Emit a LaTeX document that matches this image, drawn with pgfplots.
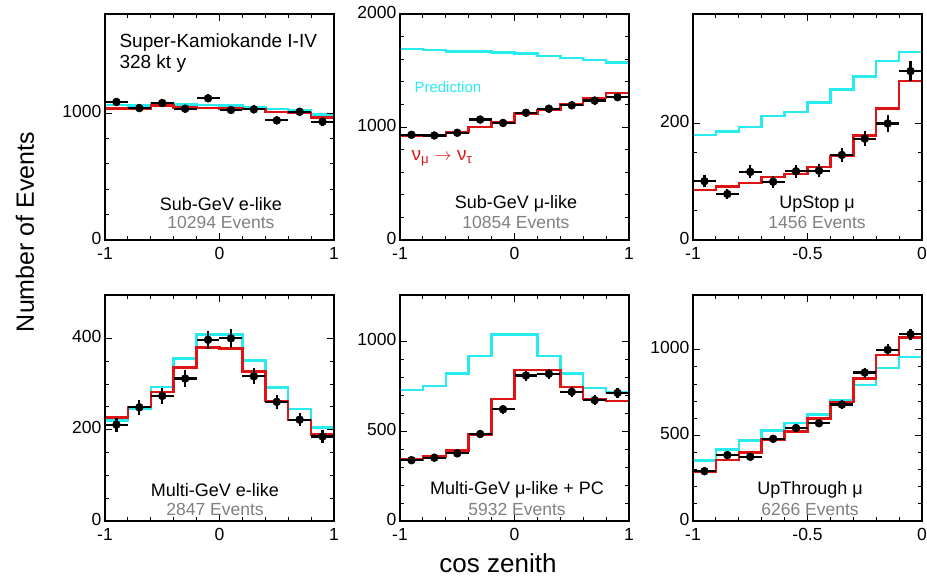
\documentclass[border=0pt]{standalone}
\usepackage{fontspec}
\setmainfont{Liberation Sans}
\usepackage{pgfplots}
\pgfplotsset{compat=1.18}

\definecolor{hred}{RGB}{222,20,20}
\definecolor{hcyan}{RGB}{40,235,240}
\definecolor{evgray}{RGB}{128,128,128}

\pgfplotsset{
 panel/.style={scale only axis, width=229pt, height=226pt, anchor=north west,
  axis line style={line width=2.4pt}, tick style={black, line width=0.9pt},
  major tick length=7pt, minor tick length=4pt, tick align=inside,
  tick label style={font=\fontsize{17.5}{18}\selectfont, inner sep=0.5pt},
  xticklabel style={yshift=-7pt}, yticklabel style={xshift=-3pt, yshift=2pt},
  /pgf/number format/assume math mode=true,
  /pgf/number format/1000 sep={}, ymin=0, clip=true, axis on top},
 hred/.style={const plot, no marks, line width=2.5pt, color=hred},
 hcy/.style={const plot, no marks, line width=2.5pt, color=hcyan},
 dat/.style={only marks, mark=*, mark size=4pt, black,
  error bars/.cd, x dir=both, x fixed=#1, y dir=both, y explicit,
  error bar style={line width=2.2pt, black}, error mark=none},
}

\begin{document}
\begin{tikzpicture}
\useasboundingbox (0pt,0pt) rectangle (927pt,-578pt);

% ---------- Panel 1: Sub-GeV e-like
\begin{axis}[panel, at={(105pt,-14pt)}, xmin=-1, xmax=1, ymax=1780,
  xtick={-1,0,1}, minor x tick num=4, ytick={0,1000}, minor y tick num=4]
\addplot[hcy] coordinates {(-1,1062)(-0.8,1058)(-0.6,1080)(-0.4,1068)(-0.2,1062)(0,1060)(0.2,1045)(0.4,1030)(0.6,1025)(0.8,990)(1,990)};
\addplot[hred] coordinates {(-1,1034)(-0.8,1034)(-0.6,1060)(-0.4,1045)(-0.2,1040)(0,1034)(0.2,1030)(0.4,1008)(0.6,1000)(0.8,963)(1,963)(1,0)(-1,0)};
\addplot[dat=0.1] table[x=x, y=y, y error=e] {
x y e
-0.9 1087 33
-0.7 1039 32
-0.5 1079 33
-0.3 1034 32
-0.1 1116 33
0.1 1024 32
0.3 1029 32
0.5 942 31
0.7 1010 32
0.9 932 31
};
\end{axis}

% ---------- Panel 2: Sub-GeV mu-like
\begin{axis}[panel, at={(400pt,-14pt)}, xmin=-1, xmax=1, ymax=2000,
  xtick={-1,0,1}, minor x tick num=4, ytick={0,1000,2000}, minor y tick num=4]
\addplot[hcy] coordinates {(-1,1690)(-0.8,1682)(-0.6,1670)(-0.4,1667)(-0.2,1660)(0,1652)(0.2,1630)(0.4,1610)(0.6,1591)(0.8,1570)(1,1570)};
\addplot[hred] coordinates {(-1,925)(-0.8,925)(-0.6,955)(-0.4,1000)(-0.2,1039)(0,1120)(0.2,1150)(0.4,1200)(0.6,1255)(0.8,1300)(1,1300)(1,0)(-1,0)};
\addplot[dat=0.1] table[x=x, y=y, y error=e] {
x y e
-0.9 931 31
-0.7 925 31
-0.5 949 31
-0.3 1066 33
-0.1 1036 32
0.1 1126 34
0.3 1162 34
0.5 1192 35
0.7 1234 35
0.9 1264 36
};
\end{axis}

% ---------- Panel 3: UpStop mu
\begin{axis}[panel, at={(693pt,-14pt)}, xmin=-1, xmax=0, ymax=388,
  xtick={-1,-0.5,0}, minor x tick num=4, ytick={0,200}, minor y tick num=3,
  xticklabels={-1,-0.5,0}]
\addplot[hcy] coordinates {(-1,180)(-0.9,186)(-0.8,194)(-0.7,213)(-0.6,220)(-0.5,236)(-0.4,258)(-0.3,281)(-0.2,307)(-0.1,323)(0,323)};
\addplot[hred] coordinates {(-1,86)(-0.9,92)(-0.8,98)(-0.7,108)(-0.6,113)(-0.5,125)(-0.4,144)(-0.3,179)(-0.2,226)(-0.1,273)(0,273)(0,0)(-1,0)};
\addplot[dat=0.05] table[x=x, y=y, y error=e] {
x y e
-0.95 101 10
-0.85 79 9
-0.75 117 11
-0.65 100 10
-0.55 118 11
-0.45 119 11
-0.35 146 12
-0.25 174 13
-0.15 200 14
-0.05 290 17
};
\end{axis}

% ---------- Panel 4: Multi-GeV e-like
\begin{axis}[panel, at={(105pt,-295pt)}, xmin=-1, xmax=1, ymax=495,
  xtick={-1,0,1}, minor x tick num=4, ytick={0,200,400}, minor y tick num=3]
\addplot[hcy] coordinates {(-1,220)(-0.8,246)(-0.6,294)(-0.4,356)(-0.2,409)(0,409)(0.2,352)(0.4,292)(0.6,245)(0.8,205)(1,205)};
\addplot[hred] coordinates {(-1,227)(-0.8,250)(-0.6,283)(-0.4,336)(-0.2,380)(0,378)(0.2,328)(0.4,263)(0.6,221)(0.8,189)(1,189)(1,0)(-1,0)};
\addplot[dat=0.1] table[x=x, y=y, y error=e] {
x y e
-0.9 211 15
-0.7 249 16
-0.5 274 17
-0.3 312 18
-0.1 397 20
0.1 400 20
0.3 317 18
0.5 261 16
0.7 222 15
0.9 185 14
};
\end{axis}

% ---------- Panel 5: Multi-GeV mu-like + PC
\begin{axis}[panel, at={(400pt,-295pt)}, xmin=-1, xmax=1, ymax=1260,
  xtick={-1,0,1}, minor x tick num=4, ytick={0,500,1000}, minor y tick num=4]
\addplot[hcy] coordinates {(-1,729)(-0.8,753)(-0.6,821)(-0.4,921)(-0.2,1040)(0,1040)(0.2,921)(0.4,821)(0.6,742)(0.8,720)(1,720)};
\addplot[hred] coordinates {(-1,344)(-0.8,359)(-0.6,394)(-0.4,482)(-0.2,679)(0,842)(0.2,842)(0.4,747)(0.6,679)(0.8,668)(1,668)(1,0)(-1,0)};
\addplot[dat=0.1] table[x=x, y=y, y error=e] {
x y e
-0.9 339 18
-0.7 353 19
-0.5 377 19
-0.3 485 22
-0.1 623 25
0.1 811 28
0.3 821 29
0.5 720 27
0.7 674 26
0.9 714 27
};
\end{axis}

% ---------- Panel 6: UpThrough mu
\begin{axis}[panel, at={(693pt,-295pt)}, xmin=-1, xmax=0, ymax=1320,
  xtick={-1,-0.5,0}, minor x tick num=4, ytick={0,500,1000}, minor y tick num=4,
  xticklabels={-1,-0.5,0}]
\addplot[hcy] coordinates {(-1,352)(-0.9,419)(-0.8,470)(-0.7,528)(-0.6,571)(-0.5,623)(-0.4,705)(-0.3,794)(-0.2,895)(-0.1,958)(0,958)};
\addplot[hred] coordinates {(-1,286)(-0.9,356)(-0.8,400)(-0.7,476)(-0.6,524)(-0.5,600)(-0.4,695)(-0.3,832)(-0.2,971)(-0.1,1072)(0,1072)(0,0)(-1,0)};
\addplot[dat=0.05] table[x=x, y=y, y error=e] {
x y e
-0.95 291 17
-0.85 385 20
-0.75 375 19
-0.65 480 22
-0.55 543 23
-0.45 571 24
-0.35 680 26
-0.25 867 29
-0.15 1000 32
-0.05 1091 33
};
\end{axis}

% ---------- Texts
\node[anchor=west, font=\fontsize{19}{19}\selectfont] at (116pt,-43pt) {Super-Kamiokande I-IV};
\node[anchor=west, font=\fontsize{19}{19}\selectfont] at (116pt,-64pt) {328 kt y};

\node[font=\fontsize{18}{18}\selectfont] at (221pt,-204pt) {Sub-GeV e-like};
\node[font=\fontsize{17.5}{18}\selectfont, text=evgray] at (221pt,-222pt) {10294 Events};

\node[anchor=west, font=\fontsize{15}{15}\selectfont, text=hcyan] at (411pt,-87pt) {Prediction};
\node[anchor=west, font=\fontsize{19}{19}\selectfont, text=hred] at (408pt,-158pt) {ν\textsubscript{μ} $\rightarrow$ ν\textsubscript{τ}};
\node[font=\fontsize{18}{18}\selectfont] at (516pt,-204pt) {Sub-GeV μ-like};
\node[font=\fontsize{17.5}{18}\selectfont, text=evgray] at (516pt,-222pt) {10854 Events};

\node[font=\fontsize{18}{18}\selectfont] at (817pt,-204pt) {UpStop μ};
\node[font=\fontsize{17.5}{18}\selectfont, text=evgray] at (817pt,-222pt) {1456 Events};

\node[font=\fontsize{18}{18}\selectfont] at (215pt,-490pt) {Multi-GeV e-like};
\node[font=\fontsize{17.5}{18}\selectfont, text=evgray] at (215pt,-509pt) {2847 Events};

\node[font=\fontsize{18}{18}\selectfont] at (517pt,-490pt) {Multi-GeV μ-like + PC};
\node[font=\fontsize{17.5}{18}\selectfont, text=evgray] at (517pt,-509pt) {5932 Events};

\node[font=\fontsize{18}{18}\selectfont] at (810pt,-490pt) {UpThrough μ};
\node[font=\fontsize{17.5}{18}\selectfont, text=evgray] at (810pt,-509pt) {6266 Events};

\node[font=\fontsize{26}{26}\selectfont] at (498pt,-563pt) {cos zenith};
\node[rotate=90, font=\fontsize{25}{25}\selectfont] at (25pt,-232pt) {Number of Events};
\end{tikzpicture}
\end{document}
